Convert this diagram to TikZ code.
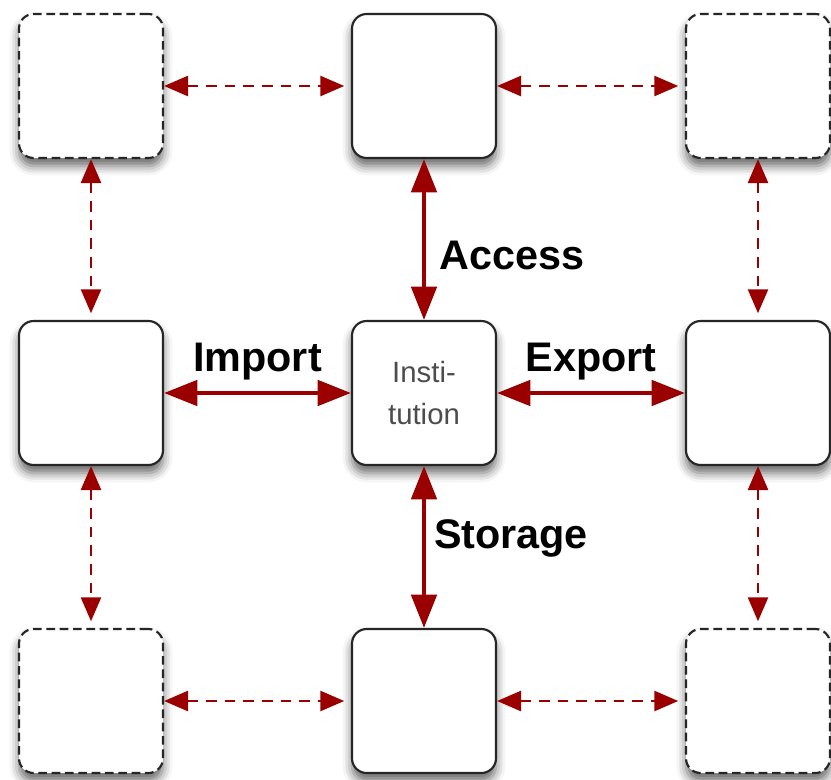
\documentclass[tikz,border=0pt]{standalone}
\usepackage{fontspec}
\setmainfont{Liberation Sans}
\usetikzlibrary{arrows.meta,shadows.blur}
\definecolor{linkred}{HTML}{9B0000}

\begin{document}
\begin{tikzpicture}[x=0.75pt,y=-0.75pt,line join=round,
  box/.style={draw=black!85,line width=1.6pt,fill=white,rounded corners=11pt,minimum size=108pt,
    blur shadow={shadow xshift=0pt,shadow yshift=-6pt,shadow blur radius=7pt,shadow opacity=60}},
  openbox/.style={box,dash pattern=on 6.5pt off 3.5pt},
  link/.style={draw=linkred,line width=3pt,
    {Triangle[width=19pt,length=25pt]}-{Triangle[width=19pt,length=25pt]}},
  weaklink/.style={draw=linkred,line width=2pt,dash pattern=on 8pt off 6pt,shorten >=5pt,
    {Triangle[width=15pt,length=18pt]}-{Triangle[width=15pt,length=18pt]}},
  tag/.style={font=\bfseries\fontsize{31}{31}\selectfont,inner sep=0pt}]
  \useasboundingbox (0,0) rectangle (831,779);

  % boxes - row by row
  \node[openbox] (tl) at (91,86) {};
  \node[box]     (tm) at (424,86) {};
  \node[openbox] (tr) at (758,86) {};
  \node[box]     (ml) at (91,393) {};
  \node[box,font=\fontsize{22}{31.5}\selectfont,text=black!70,align=center] (inst) at (424,393) {Insti-\\tution};
  \node[box]     (mr) at (758,393) {};
  \node[openbox] (bl) at (91,701) {};
  \node[box]     (bm) at (424,701) {};
  \node[openbox] (br) at (758,701) {};

  % links of the institution
  \draw[link] (tm) -- node[tag,right=10pt,pos=0.6] {Access} (inst);
  \draw[link] (inst) -- node[tag,right=6pt,pos=0.45] {Storage} (bm);
  \draw[link] (ml) -- node[tag,above=8pt] {Import} (inst);
  \draw[link] (inst) -- node[tag,above=8pt] {Export} (mr);

  % links between the neighbours
  \draw[weaklink] (tl) -- (tm);
  \draw[weaklink] (tm) -- (tr);
  \draw[weaklink] (tl) -- (ml);
  \draw[weaklink] (tr) -- (mr);
  \draw[weaklink] (ml) -- (bl);
  \draw[weaklink] (mr) -- (br);
  \draw[weaklink] (bl) -- (bm);
  \draw[weaklink] (bm) -- (br);
\end{tikzpicture}
\end{document}
